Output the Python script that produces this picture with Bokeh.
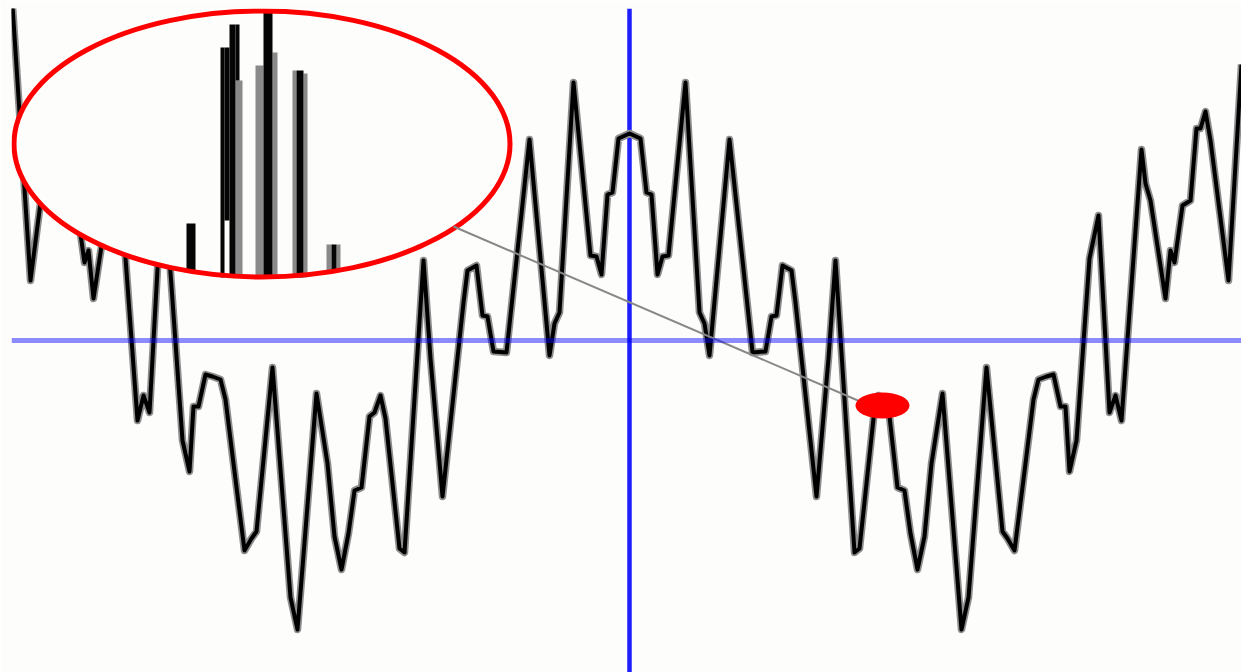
from bokeh.plotting import figure
from bokeh.models import Range1d, Span
from bokeh.embed import file_html
from bokeh.resources import INLINE

# ---------------- data ----------------
# main noisy wave (x: horizontal offset from the vertical marker, y: offset from the horizontal marker)
wave_x = [-617, -599, -581, -576, -571, -567, -561, -553, -545, -541, -536, -521, -516, -512,
          -492, -486, -480, -469, -460, -447, -440, -436, -431, -424, -417, -409, -404, -396,
          -385, -378, -373, -357, -339, -332, -313, -302, -295, -288, -281, -275, -268, -260,
          -255, -249, -244, -230, -225, -206, -199, -187, -166, -162, -153, -147, -142, -136,
          -123, -100, -80, -75, -70, -56, -39, -33, -28, -22, -17, -11, 0,
          11, 17, 22, 28, 33, 39, 56, 70, 75, 80, 100, 123, 136, 142, 147, 153, 162, 166,
          187, 199, 206, 225, 230, 244, 249, 255, 260, 268, 275, 281, 288, 295, 302, 313,
          332, 339, 357, 373, 378, 385, 396, 404, 409, 417, 424, 431, 436, 440, 447, 460,
          469, 480, 486, 492, 512, 516, 521, 536, 541, 545, 553, 561, 567, 571, 576, 581,
          599, 612]
wave_y = [335, 60, 200, 229, 212, 212, 140, 135, 78, 90, 42, 140, 157, 191,
          -80, -55, -72, 125, 82, -100, -131, -66, -66, -34, -36, -39, -59, -123,
          -210, -198, -191, -27, -257, -289, -53, -123, -196, -229, -193, -150, -147, -76,
          -72, -55, -78, -208, -212, 80, -18, -156, 38, 70, 75, 25, 24, -11,
          -12, 201, -15, 17, 28, 258, 85, 84, 66, 146, 148, 202, 207,
          202, 148, 146, 66, 84, 85, 258, 28, 17, -15, 201, -12, -11, 24, 25, 75, 70, 38,
          -156, -18, 80, -212, -208, -78, -55, -72, -76, -147, -150, -193, -229, -196, -123, -53,
          -289, -257, -27, -191, -198, -210, -123, -59, -39, -36, -34, -66, -66, -131, -100, 82,
          125, -72, -55, -80, 191, 157, 140, 42, 90, 78, 135, 140, 212, 212, 229, 200,
          60, 276]

# magnifier lens (ellipse) and the marked point
lens_x, lens_y, lens_w, lens_h = [-367.5], [196.5], [496], [266]
point_x, point_y, point_w, point_h = [253], [-65], [54], [26]
link_x = [-176, 233]
link_y = [114, -62]

# magnified content inside the lens (dark strokes and light strokes)
inset_dark_left = [-443, -409, -405, -400, -394, -366, -333, -298]
inset_dark_right = [-434, -405, -400, -394, -390, -357, -326, -293]
inset_dark_top = [117, 293, 293, 316, 316, 328, 270, 96]
inset_dark_bottom = [69, 63, 120, 63, 260, 63, 63, 70]

inset_light_left = [-394, -374, -357, -337, -326, -303, -293]
inset_light_right = [-387, -366, -352, -333, -322, -298, -289]
inset_light_top = [260, 275, 288, 270, 267, 96, 96]
inset_light_bottom = [63, 63, 63, 63, 63, 70, 70]

# ---------------- figure ----------------
BG = "#fdfdfb"
p = figure(width=1241, height=672,
           x_range=Range1d(-618, 612), y_range=Range1d(-332, 332),
           output_backend="svg", toolbar_location=None,
           x_axis_type=None, y_axis_type=None,
           min_border_left=11, min_border_right=0, min_border_top=8, min_border_bottom=0,
           background_fill_color=BG, border_fill_color=BG, outline_line_color=None)

# vertical marker (under the wave)
p.add_layout(Span(location=0, dimension="height", line_color="#1e1eff",
                  line_width=4.5, level="underlay"))

# the wave
p.line(wave_x, wave_y, line_color="#8e8e8e", line_width=7.5, line_join="round")
p.line(wave_x, wave_y, line_color="#000000", line_width=4, line_join="round")

# horizontal marker (translucent, over the wave)
p.add_layout(Span(location=0, dimension="width", line_color="#0000ff",
                  line_alpha=0.45, line_width=5))

# magnifier lens
p.ellipse(lens_x, lens_y, width=lens_w, height=lens_h, fill_color=BG, line_color=None)
p.quad(left=inset_light_left, right=inset_light_right, top=inset_light_top,
       bottom=inset_light_bottom, fill_color="#8a8a8a", line_color=None)
p.quad(left=inset_dark_left, right=inset_dark_right, top=inset_dark_top,
       bottom=inset_dark_bottom, fill_color="#050505", line_color=None)
p.ellipse(lens_x, lens_y, width=lens_w, height=lens_h, fill_color=None,
          line_color="#ff0000", line_width=5)

# connector and marked point
p.line(link_x, link_y, line_color="#888888", line_width=2)
p.ellipse(point_x, point_y, width=point_w, height=point_h, fill_color="#ff0000", line_color=None)

open("out.html", "w").write(file_html(p, INLINE, title="wave magnifier"))
